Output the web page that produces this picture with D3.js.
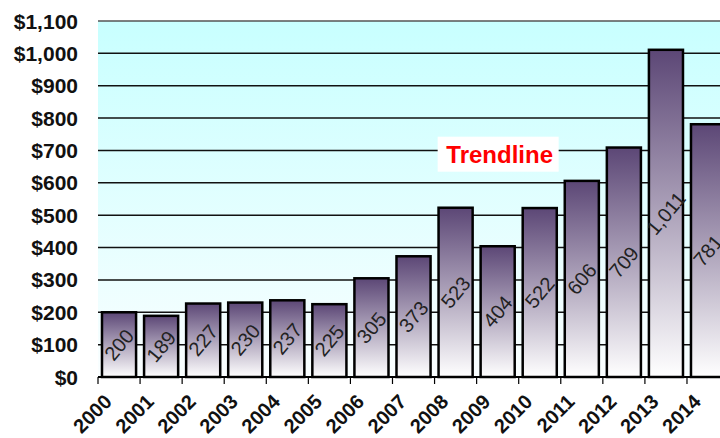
<!DOCTYPE html>
<html><head><meta charset="utf-8">
<script src="https://cdn.jsdelivr.net/npm/d3@7"></script>
<style>html,body{margin:0;padding:0;background:#fff;overflow:hidden}</style>
</head><body>
<svg id="chart" width="720" height="438"></svg>
<script>
const years = ["2000","2001","2002","2003","2004","2005","2006","2007","2008","2009","2010","2011","2012","2013","2014"];
const values = [200,189,227,230,237,225,305,373,523,404,522,606,709,1011,781];
const yTicks = [0,100,200,300,400,500,600,700,800,900,1000,1100];
const annotation = {text:"Trendline", year:"2009", value:690};

(function(){
const svg = d3.select("#chart");
const mLeft = 98, mTop = 21, mBottom = 377, mRight = 98 + 15*42.07;
const x = d3.scaleBand().domain(years).range([mLeft,mRight]).paddingInner(0.19).paddingOuter(0.095);
const y = d3.scaleLinear().domain([0,1100]).range([mBottom,mTop]);
const step = x.step();

const defs = svg.append("defs");
const bg = defs.append("linearGradient").attr("id","bg").attr("x1",0).attr("y1",0).attr("x2",0).attr("y2",1);
bg.append("stop").attr("offset","0%").attr("stop-color","#c8ffff");
bg.append("stop").attr("offset","100%").attr("stop-color","#fafeff");
const bar = defs.append("linearGradient").attr("id","bar").attr("x1",0).attr("y1",0).attr("x2",0).attr("y2",1);
bar.append("stop").attr("offset","0%").attr("stop-color","#5c4776");
bar.append("stop").attr("offset","100%").attr("stop-color","#ffffff");

svg.append("rect").attr("x",mLeft).attr("y",mTop).attr("width",mRight-mLeft).attr("height",mBottom-mTop).attr("fill","url(#bg)");

// gridlines
svg.append("g").selectAll("line").data(yTicks.filter(d=>d>0)).join("line")
  .attr("x1",mLeft).attr("x2",mRight).attr("y1",d=>y(d)).attr("y2",d=>y(d))
  .attr("stroke",d=>d===1100?"#555":"#111").attr("stroke-width",1.5);

// y labels
svg.append("g").selectAll("text").data(yTicks).join("text")
  .attr("x",78).attr("y",d=>y(d)).attr("text-anchor","end").attr("dominant-baseline","central")
  .attr("font-family","Liberation Sans, Arial, sans-serif").attr("font-weight","bold").attr("font-size",21)
  .attr("fill","#111")
  .text(d=>d3.format("$,")(d));

// bars
svg.append("g").selectAll("rect").data(values).join("rect")
  .attr("x",(d,i)=>x(years[i])).attr("width",x.bandwidth())
  .attr("y",d=>y(d)).attr("height",d=>mBottom-y(d))
  .attr("fill","url(#bar)").attr("stroke","#000").attr("stroke-width",2.5);

// bar labels
svg.append("g").selectAll("text").data(values).join("text")
  .attr("transform",(d,i)=>`translate(${x(years[i])+x.bandwidth()/2},${(y(d)+mBottom)/2}) rotate(-50)`)
  .attr("text-anchor","middle").attr("dominant-baseline","central")
  .attr("font-family","Liberation Sans, Arial, sans-serif").attr("font-size",20).attr("fill","#222")
  .text(d=>d3.format(",")(d));

// x axis line and ticks
svg.append("line").attr("x1",mLeft).attr("x2",mRight).attr("y1",mBottom).attr("y2",mBottom).attr("stroke","#000").attr("stroke-width",2);
svg.append("g").selectAll("line").data(years).join("line")
  .attr("x1",d=>x(d)-step*0.095).attr("x2",d=>x(d)-step*0.095)
  .attr("y1",mBottom).attr("y2",mBottom+7).attr("stroke","#000").attr("stroke-width",1.2);

// x labels
svg.append("g").selectAll("text").data(years).join("text")
  .attr("transform",d=>`translate(${x(d)+x.bandwidth()/2-6},${mBottom+26}) rotate(-45)`)
  .attr("text-anchor","end")
  .attr("font-family","Liberation Sans, Arial, sans-serif").attr("font-weight","bold").attr("font-size",20)
  .attr("fill","#111")
  .text(d=>d);

// annotation
const ax = x(annotation.year)+x.bandwidth()/2, ay = y(annotation.value);
svg.append("rect").attr("x",ax-60).attr("y",ay-17).attr("width",121).attr("height",35).attr("fill","#fff");
svg.append("text").attr("x",ax+2).attr("y",ay+9).attr("text-anchor","middle")
  .attr("font-family","Liberation Sans, Arial, sans-serif").attr("font-weight","bold").attr("font-size",24)
  .attr("fill","#ff0000").text(annotation.text);
})();
</script>
</body></html>
